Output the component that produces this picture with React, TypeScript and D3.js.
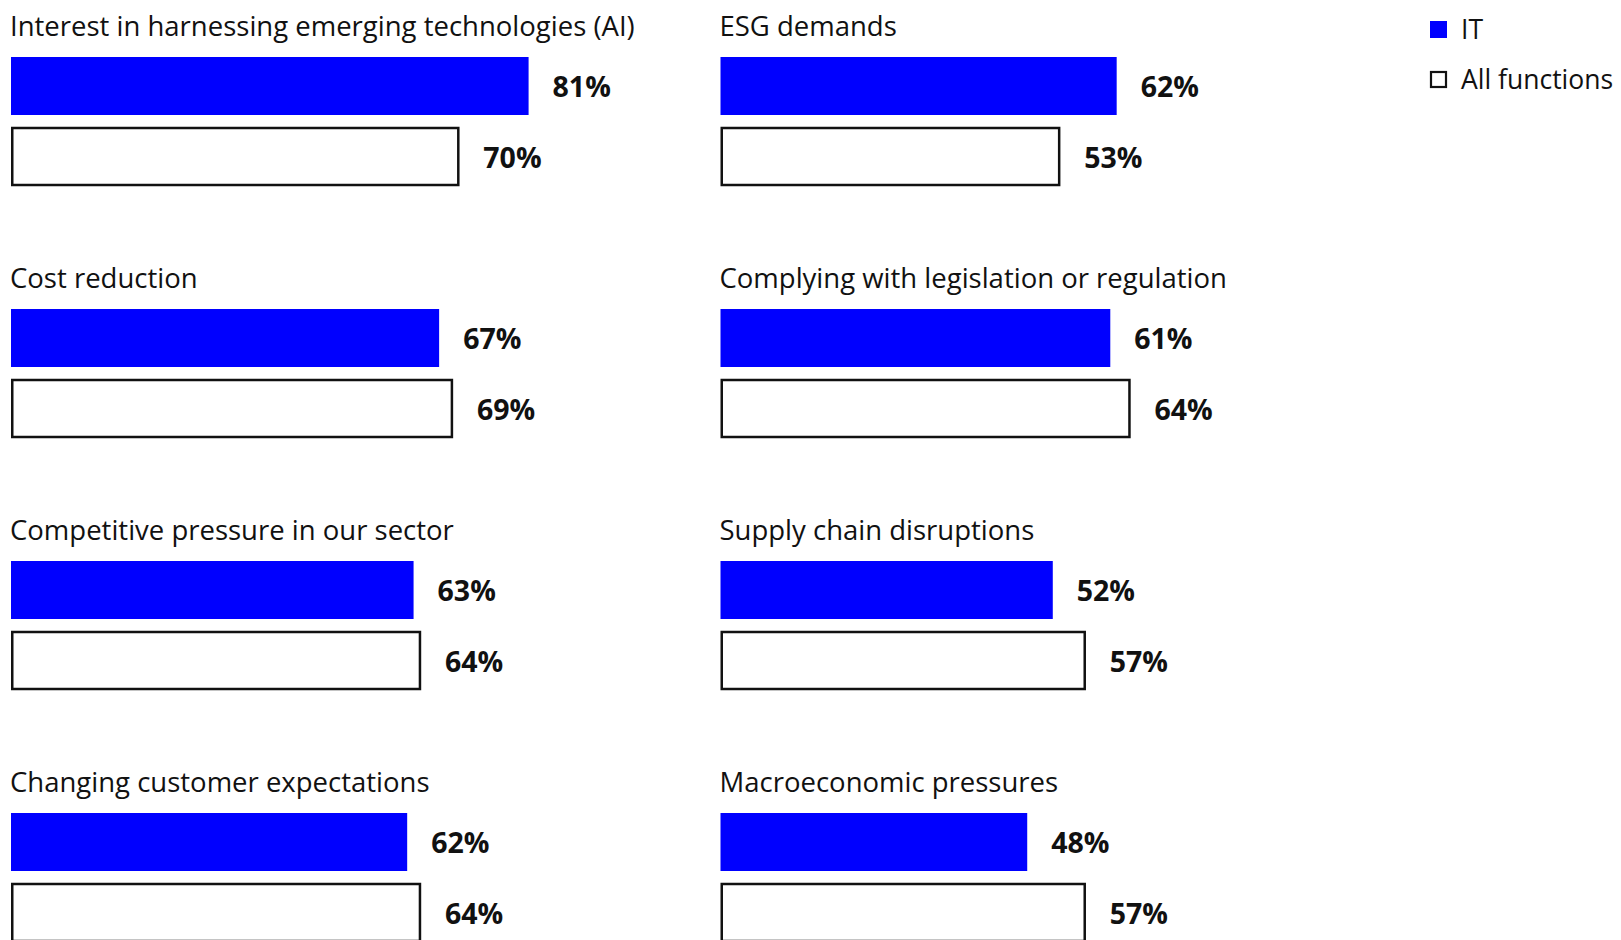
import React from "react";
import * as d3 from "d3";

const leftCategories = [
  "Interest in harnessing emerging technologies (AI)",
  "Cost reduction",
  "Competitive pressure in our sector",
  "Changing customer expectations",
];
const rightCategories = [
  "ESG demands",
  "Complying with legislation or regulation",
  "Supply chain disruptions",
  "Macroeconomic pressures",
];
const leftIT = [81, 67, 63, 62];
const leftAll = [70, 69, 64, 64];
const rightIT = [62, 61, 52, 48];
const rightAll = [53, 64, 57, 57];
const seriesNames = ["IT", "All functions"];

const W = 1621;
const H = 940;
const BLUE = "#0000ff";
const INK = "#111111";
const FONT = "'Open Sans', sans-serif";

export default function App() {
  const x = d3.scaleLinear().domain([0, 100]).range([0, 639]);
  const rowY = d3.scaleLinear().domain([0, 3]).range([57, 813]);
  const colX = [11, 720.5];
  const barH = 58;
  const outlineOffset = 71;
  const outlineH = 57;

  const columns = [
    { cats: leftCategories, it: leftIT, all: leftAll },
    { cats: rightCategories, it: rightIT, all: rightAll },
  ];

  return (
    <svg
      width={W}
      height={H}
      style={{ position: "absolute", left: 0, top: 0, background: "#fff" }}
    >
      {columns.map((col, ci) =>
        col.cats.map((cat, i) => {
          const x0 = colX[ci];
          const y0 = rowY(i);
          const wIT = x(col.it[i]);
          const wAll = x(col.all[i]);
          return (
            <g key={`${ci}-${i}`}>
              <text
                x={x0 - 1}
                y={y0 - 21.5}
                fontFamily={FONT}
                fontSize={27.5}
                fill={INK}
              >
                {cat}
              </text>
              <rect x={x0} y={y0} width={wIT} height={barH} fill={BLUE} />
              <text
                x={x0 + wIT + 24}
                y={y0 + barH / 2}
                dominantBaseline="central"
                fontFamily={FONT}
                fontWeight={700}
                fontSize={28.5}
                fill={INK}
              >
                {`${col.it[i]}%`}
              </text>
              <rect
                x={x0 + 1.25}
                y={y0 + outlineOffset}
                width={wAll - 1.25}
                height={outlineH}
                fill="#fff"
                stroke={INK}
                strokeWidth={2.5}
              />
              <text
                x={x0 + wAll + 25}
                y={y0 + outlineOffset + outlineH / 2}
                dominantBaseline="central"
                fontFamily={FONT}
                fontWeight={700}
                fontSize={28.5}
                fill={INK}
              >
                {`${col.all[i]}%`}
              </text>
            </g>
          );
        })
      )}
      <g>
        <rect x={1430} y={21} width={17} height={17} fill={BLUE} />
        <text x={1461} y={29} dominantBaseline="central" fontFamily={FONT} fontSize={26.5} fill={INK}>
          {seriesNames[0]}
        </text>
        <rect x={1431} y={72} width={15} height={15} fill="#fff" stroke={INK} strokeWidth={2.2} />
        <text x={1461} y={79} dominantBaseline="central" fontFamily={FONT} fontSize={26.5} fill={INK}>
          {seriesNames[1]}
        </text>
      </g>
    </svg>
  );
}
